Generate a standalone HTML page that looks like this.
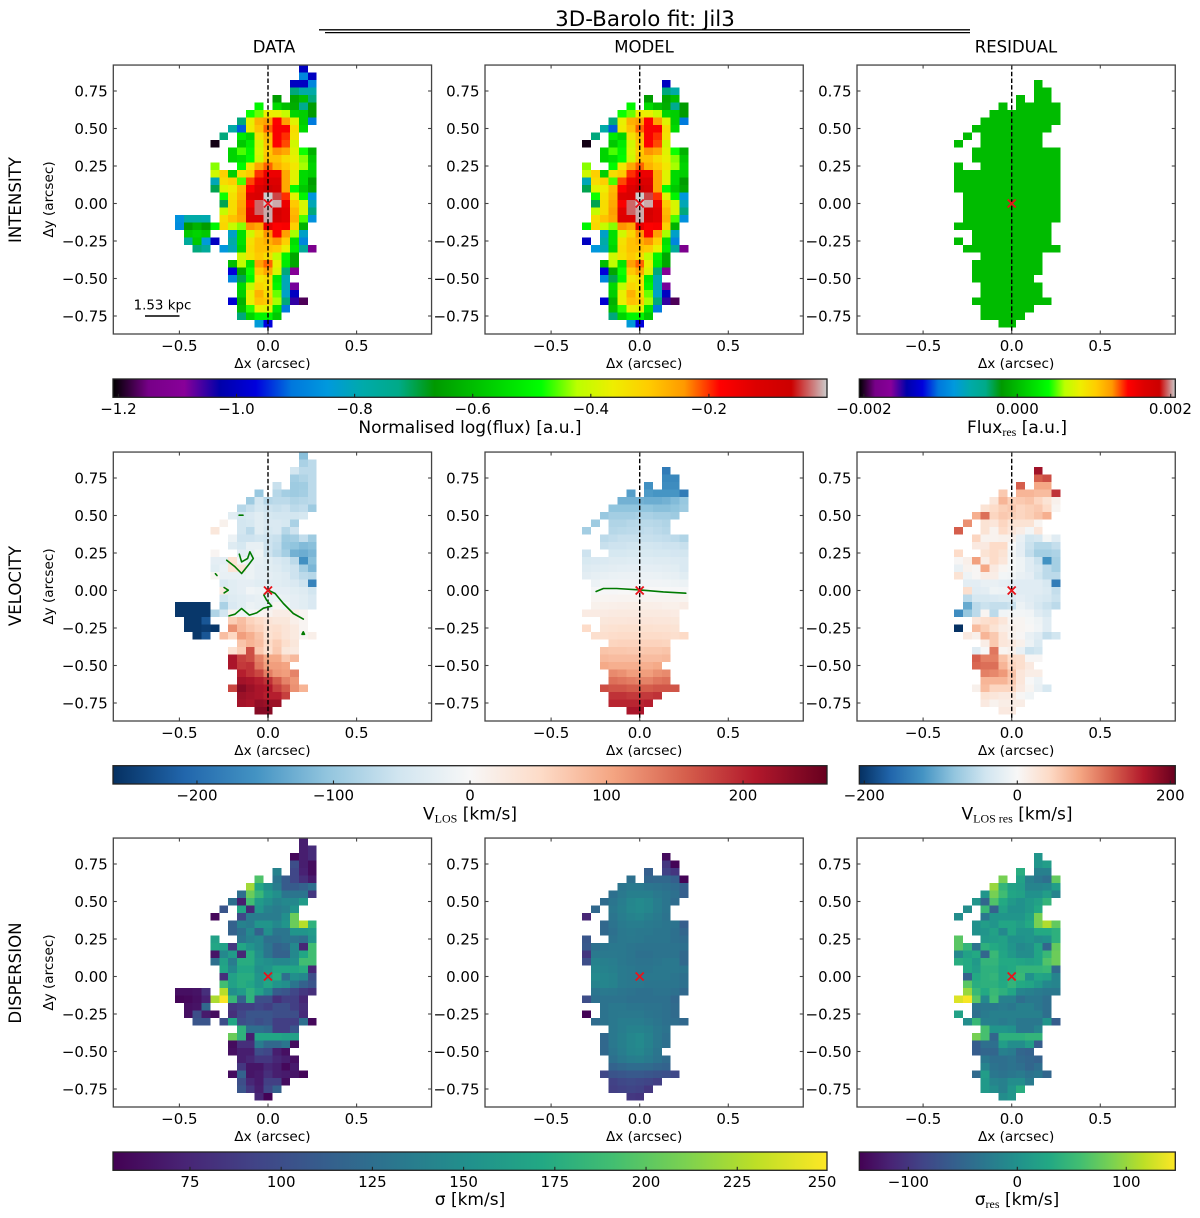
<!DOCTYPE html>
<html lang="en">
<head>
<meta charset="utf-8">
<title>3D-Barolo fit: Jil3</title>
<style>
html,body{margin:0;padding:0;background:#fff;}
svg{display:block;}
text{font-family:"DejaVu Sans","Liberation Sans",sans-serif;fill:#000;}
</style>
</head>
<body>
<svg id="fig" xmlns="http://www.w3.org/2000/svg" width="1200" height="1218" viewBox="0 0 1200 1218">
<rect width="1200" height="1218" fill="#fff"/>
<text x="645" y="26" font-size="21.4" text-anchor="middle">3D-Barolo fit: Jil3</text>
<line x1="319" x2="970" y1="29.8" y2="29.8" stroke="#000" stroke-width="1.3"/>
<line x1="325" x2="970" y1="32.6" y2="32.6" stroke="#000" stroke-width="1.3"/>
<text x="274" y="52.5" font-size="16.5" text-anchor="middle">DATA</text>
<text x="644" y="52.5" font-size="16.5" text-anchor="middle">MODEL</text>
<text x="1016" y="52.5" font-size="16.5" text-anchor="middle">RESIDUAL</text>
<text transform="translate(21,200) rotate(-90)" font-size="16.6" text-anchor="middle">INTENSITY</text>
<text transform="translate(21,586) rotate(-90)" font-size="16.6" text-anchor="middle">VELOCITY</text>
<text transform="translate(21,973) rotate(-90)" font-size="16.6" text-anchor="middle">DISPERSION</text>
<defs id="defs"></defs>
</svg>
<script>
const _ = null;
const p = n => Array(n).fill(null);

/* Rows run from dy = +0.90 down to dy = -0.80; each row starts at dx = -0.50 in 0.05 arcsec pixels */
const intensityData = [
[...p(14),-1],
[...p(14),-.88,-1],
[...p(13),-1,-1,-.88],
[...p(13),-.72,-.78,-.78],
[...p(11),-.66,_,-.64,-.6,-.72],
[...p(9),-.5,_,-.55,-.6,-.63,-.74,-.66],
[...p(8),-.48,-.45,-.36,-.37,-.41,-.56,-.57,-.66],
[...p(7),-.72,-.37,-.27,-.25,-.18,-.25,-.38,-.57,-.9],
[...p(6),-.78,-.92,-.36,-.29,-.22,-.17,-.17,-.33,-.55],
[...p(5),-.72,_,-.52,-.56,-.34,-.28,-.17,-.2,-.34],
[...p(4),-1.2,_,_,-.58,-.52,-.4,-.29,-.18,-.21,-.4],
[...p(6),-.56,-.46,-.5,-.39,-.3,-.24,-.26,-.38,-.48,-.62],
[...p(6),-.56,-.54,-.49,-.4,-.29,-.29,-.33,-.37,-.44,-.58],
[...p(4),-.44,_,_,-.49,-.35,-.26,-.22,-.27,-.3,-.35,-.43,-.56],
[...p(4),-.4,-.31,-.57,-.33,-.3,-.2,-.15,-.15,-.26,-.38,-.55,-.57],
[...p(4),-.8,-.33,-.31,-.46,-.21,-.15,-.12,-.12,-.26,-.38,-.55,-.66],
[...p(4),-.7,-.38,-.36,-.28,-.18,-.12,-.06,-.1,-.26,-.49,-.58,-.64],
[...p(5),-.48,-.34,-.27,-.12,-.11,0,-.04,-.2,-.38,-.5,-.85],
[...p(5),-.7,-.33,-.26,-.17,-.03,0,-.01,-.15,-.3,-.39,-.8],
[...p(5),-.41,-.33,-.25,-.13,-.03,-.01,-.09,-.13,-.28,-.39,-.72],
[-.86,-.78,-.78,-.79,_,-.33,-.29,-.26,-.12,-.12,-.01,-.1,-.13,-.27,-.46,-.86],
[-.87,-.66,-.62,-.66,-.5,-.32,-.41,-.44,-.24,-.26,-.14,-.18,-.17,-.31,-.62],
[...p(1),-.58,-.56,-.58,_,_,-.82,-.54,-.4,-.32,-.24,-.17,-.25,-.43,-.82],
[...p(1),-.76,-.58,-.84,-1,_,-.78,-.54,-.34,-.29,-.27,-.24,-.31,-.54,-.88],
[...p(2),-.72,-.76,_,-.85,-.8,-.56,-.33,-.29,-.29,-.3,-.37,-.52,-.76,-1.13],
[...p(7),-.4,-.34,-.3,-.33,-.42,-.5,-.64],
[...p(6),-.6,-.42,-.53,-.25,-.22,-.37,-.52,-.64],
[...p(6),-.97,-.64,-.48,-.3,-.26,-.39,-.72,-1.1],
[...p(6),-.88,-.7,-.5,-.35,-.33,-.52,-.8],
[...p(7),-.55,-.42,-.32,-.34,-.5,-.8,-1.08],
[...p(7),-.57,-.37,-.27,-.33,-.45,-.82,-1],
[...p(6),-.98,-.62,-.37,-.29,-.3,-.43,-.72,-1.05,-1.17],
[...p(7),-.6,-.47,-.37,-.38,-.53,-.9],
[...p(7),-.72,-.56,-.5,-.5,-.58],
[...p(9),-.84,-.97]
];
const intensityModel = [
[],
[],
[...p(13),-1],
[...p(13),-.72,-.78],
[...p(11),-.66,_,-.64,-.6],
[...p(9),-.5,_,-.55,-.6,-.63,-.74,-.66],
[...p(8),-.48,-.45,-.36,-.37,-.41,-.56,-.57,-.66],
[...p(7),-.72,-.37,-.27,-.25,-.18,-.25,-.38,-.57,-.9],
[...p(6),-.78,-.92,-.36,-.29,-.22,-.17,-.17,-.33,-.55],
[...p(5),-.72,_,-.52,-.56,-.34,-.28,-.17,-.2,-.34],
[...p(4),-1.2,_,_,-.58,-.52,-.4,-.29,-.18,-.21,-.4],
[...p(6),-.56,-.46,-.5,-.39,-.3,-.24,-.26,-.38,-.48,-.62],
[...p(6),-.56,-.54,-.49,-.4,-.29,-.29,-.33,-.37,-.44,-.58],
[...p(4),-.44,_,_,-.49,-.35,-.26,-.22,-.27,-.3,-.35,-.43,-.56],
[...p(4),-.4,-.31,-.57,-.33,-.3,-.2,-.15,-.15,-.26,-.38,-.55,-.57],
[...p(4),-.8,-.33,-.31,-.46,-.21,-.15,-.12,-.12,-.26,-.38,-.55,-.66],
[...p(4),-.7,-.38,-.36,-.28,-.18,-.12,-.06,-.1,-.26,-.49,-.58,-.64],
[...p(5),-.48,-.34,-.27,-.12,-.11,0,-.04,-.2,-.38,-.5,-.85],
[...p(5),-.7,-.33,-.26,-.17,-.03,0,-.01,-.15,-.3,-.39,-.8],
[...p(5),-.41,-.33,-.25,-.13,-.03,-.01,-.09,-.13,-.28,-.39,-.72],
[...p(5),-.33,-.29,-.26,-.12,-.12,-.01,-.1,-.13,-.27,-.46,-.86],
[...p(4),-.5,-.32,-.41,-.44,-.24,-.26,-.14,-.18,-.17,-.31,-.62],
[...p(6),-.82,-.54,-.4,-.32,-.24,-.17,-.25,-.43,-.82],
[...p(4),-1,_,-.78,-.54,-.34,-.29,-.27,-.24,-.31,-.54,-.88],
[...p(5),-.85,-.8,-.56,-.33,-.29,-.29,-.3,-.37,-.52,-.76,-1.13],
[...p(7),-.4,-.34,-.3,-.33,-.42,-.5,-.64],
[...p(6),-.6,-.42,-.53,-.25,-.22,-.37,-.52,-.64],
[...p(6),-.97,-.64,-.48,-.3,-.26,-.39,-.72,-1.1],
[...p(6),-.88,-.7,-.5,-.35,-.33,-.52,-.8],
[...p(7),-.55,-.42,-.32,-.34,-.5,-.8,-1.08],
[...p(7),-.57,-.37,-.27,-.33,-.45,-.82,-1],
[...p(6),-.98,-.62,-.37,-.29,-.3,-.43,-.72,-1.05,-1.17],
[...p(7),-.6,-.47,-.37,-.38,-.53,-.9],
[...p(7),-.72,-.56,-.5,-.5,-.58],
[...p(9),-.84,-.97]
];
const intensityResidual = [
[],
[],
[...p(13),0],
[...p(13),0,0],
[...p(11),0,_,0,0],
[...p(9),0,_,0,0,0,0,0],
[...p(8),0,0,0,0,0,0,0,0],
[...p(7),0,0,0,0,0,0,0,0,0],
[...p(6),0,0,0,0,0,0,0,0,0],
[...p(5),0,_,0,0,0,0,0,0,0],
[...p(4),0,_,_,0,0,0,0,0,0,0],
[...p(6),0,0,0,0,0,0,0,0,0,0],
[...p(6),0,0,0,0,0,0,0,0,0,0],
[...p(4),0,_,_,0,0,0,0,0,0,0,0,0],
[...p(4),0,0,0,0,0,0,0,0,0,0,0,0],
[...p(4),0,0,0,0,0,0,0,0,0,0,0,0],
[...p(4),0,0,0,0,0,0,0,0,0,0,0,0],
[...p(5),0,0,0,0,0,0,0,0,0,0,0],
[...p(5),0,0,0,0,0,0,0,0,0,0,0],
[...p(5),0,0,0,0,0,0,0,0,0,0,0],
[...p(5),0,0,0,0,0,0,0,0,0,0,0],
[...p(4),0,0,0,0,0,0,0,0,0,0,0],
[...p(6),0,0,0,0,0,0,0,0,0],
[...p(4),0,_,0,0,0,0,0,0,0,0,0],
[...p(5),0,0,0,0,0,0,0,0,0,0,0],
[...p(7),0,0,0,0,0,0,0],
[...p(6),0,0,0,0,0,0,0,0],
[...p(6),0,0,0,0,0,0,0,0],
[...p(6),0,0,0,0,0,0,0],
[...p(7),0,0,0,0,0,0,0],
[...p(7),0,0,0,0,0,0,0],
[...p(6),0,0,0,0,0,0,0,0,0],
[...p(7),0,0,0,0,0,0],
[...p(7),0,0,0,0,0],
[...p(9),0,0]
];
const velocityData = [
[...p(14),-110],
[...p(14),-85,-70],
[...p(13),-50,-70,-70],
[...p(13),-90,-80,-70],
[...p(11),-60,_,-95,-92,-70],
[...p(9),-100,_,-75,-90,-95,-90,-70],
[...p(8),-95,-50,-75,-70,-70,-80,-75,-70],
[...p(7),-75,-60,-45,-55,-60,-55,-70,-65,-95],
[...p(6),-30,-45,-40,-30,-45,-50,-50,-50,-45],
[...p(5),12,_,-50,-45,-30,-40,-40,-45,-85],
[...p(4),30,_,_,-50,-70,-30,-45,-40,-75,-55],
[...p(6),-15,-55,-55,-50,-55,-60,-95,-90,-65,-95],
[...p(6),-35,-45,-20,-20,-55,-65,-100,-105,-115,-110],
[...p(4),5,_,_,-30,-25,-12,-55,-70,-90,-125,-130,-120],
[...p(4),-25,-25,40,-10,-20,-20,-30,-40,-50,-70,-160,-110],
[...p(4),-30,-18,35,35,-15,-25,-30,-35,-45,-55,-90,-120],
[...p(4),5,-20,-20,-20,-15,-25,-25,-30,-35,-55,-70,-75],
[...p(5),-40,-30,-25,-25,-30,-30,-30,-35,-40,-55,-175],
[...p(5),25,-30,-25,-10,-15,-10,-25,-25,-30,-35,-50],
[...p(5),-50,-35,-30,-25,-20,-20,-15,-20,-25,-30,-40],
[-255,-255,-255,-255,_,-85,-40,-30,-15,-20,-25,5,-10,-25,-30,-40],
[-255,-255,-255,-255,-80,-50,10,-10,-5,5,10,20,20,15,5],
[...p(1),-255,-255,-225,_,_,65,80,60,50,35,30,30,15,5],
[...p(1),-255,-255,-250,-255,_,120,85,70,60,40,45,35,25,5],
[...p(2),-255,-225,_,80,55,110,95,75,40,50,35,25,5,15],
[...p(7),75,90,80,50,65,45,30],
[...p(6),40,65,170,70,45,70,30,25],
[...p(6),215,180,170,130,100,100,70,85],
[...p(6),215,185,190,140,110,110,105],
[...p(7),205,190,175,135,115,110,130],
[...p(7),220,215,205,190,160,130,115],
[...p(6),175,240,225,215,210,180,160,120,90],
[...p(7),225,220,215,205,205,180],
[...p(7),220,215,230,225,225],
[...p(9),240,240]
];
const velocityModel = [
[],
[],
[...p(13),-185],
[...p(13),-170,-170],
[...p(11),-160,_,-165,-165],
[...p(9),-145,_,-150,-155,-155,-155,-185],
[...p(8),-125,-125,-125,-130,-130,-125,-115,-100],
[...p(7),-105,-105,-105,-105,-105,-110,-110,-105,-95],
[...p(6),-100,-90,-90,-90,-85,-85,-90,-90,-95],
[...p(5),-95,_,-80,-80,-75,-72,-72,-75,-80],
[...p(4),-90,_,_,-75,-72,-70,-68,-65,-70,-75],
[...p(6),-70,-65,-60,-60,-60,-60,-62,-65,-70,-80],
[...p(6),-60,-55,-55,-52,-50,-50,-52,-55,-55,-60],
[...p(4),-55,_,_,-45,-45,-42,-42,-42,-45,-45,-48,-50],
[...p(4),-42,-40,-38,-35,-35,-33,-33,-33,-35,-35,-37,-40],
[...p(4),-35,-32,-30,-28,-26,-25,-25,-25,-26,-28,-30,-40],
[...p(4),-28,-24,-20,-18,-17,-17,-17,-17,-18,-20,-22,-30],
[...p(5),-15,-10,-10,-8,-8,-8,-8,-8,-10,-12,-15],
[...p(5),-3,-2,-2,0,0,0,0,0,0,-2,-3],
[...p(5),5,6,7,8,8,8,8,8,8,7,6],
[...p(5),12,14,15,16,17,17,17,16,14,14,20],
[...p(4),22,22,22,24,25,25,25,25,25,24,22],
[...p(6),30,32,32,33,33,33,32,32,30],
[...p(4),50,_,38,40,42,42,42,42,40,40,38],
[...p(5),45,45,48,50,50,50,50,50,48,45,52],
[...p(7),58,60,60,60,60,60,58],
[...p(6),75,72,72,70,70,72,72,75],
[...p(6),85,82,82,82,82,82,82,85],
[...p(6),100,95,95,95,95,95,100],
[...p(7),125,120,110,110,110,120,125],
[...p(7),145,140,135,130,130,140,145],
[...p(6),170,165,165,160,160,160,165,165,165],
[...p(7),190,190,185,185,185,190],
[...p(7),200,200,200,200,205],
[...p(9),215,215]
];
const velocityResidual = [
[],
[],
[...p(13),175],
[...p(13),125,135],
[...p(11),125,_,80,80],
[...p(9),55,_,70,70,65,65,150],
[...p(8),25,70,50,55,60,45,30,10],
[...p(7),30,40,50,55,45,50,55,40,5],
[...p(6),75,115,45,55,50,45,50,60,75],
[...p(5),95,_,30,25,45,30,30,30,5],
[...p(4),125,_,_,30,8,40,25,15,-5,25],
[...p(6),45,8,8,10,10,-15,-40,-35,-3,-25],
[...p(6),20,20,40,40,0,-20,-45,-60,-60,-50],
[...p(4),40,_,_,30,40,30,-5,-20,-50,-70,-70,-65],
[...p(4),3,12,85,15,40,25,-3,-10,-25,-45,-125,-70],
[...p(4),-15,8,3,80,20,5,-3,-10,-25,-35,-55,-70],
[...p(4),30,-10,3,15,15,-5,-8,-15,-20,-40,-55,-55],
[...p(5),-22,-22,-15,-15,-20,-22,-25,-25,-25,-35,-145],
[...p(5),35,-25,-22,-10,-12,-10,-25,-25,-25,-30,-50],
[...p(5),-55,-35,-35,-32,-28,-28,-20,-25,-30,-35,-45],
[...p(5),-105,-55,-45,-50,-50,-45,-12,-22,-35,-45,-55],
[...p(4),-130,-80,-55,5,-55,-8,-5,-5,-8,-25,-35],
[...p(6),25,35,40,25,5,5,-3,-10,-25],
[...p(4),-205,_,65,50,30,15,10,5,2,-8,-25],
[...p(5),20,10,70,55,25,8,3,-15,-25,-50,-40],
[...p(7),15,55,25,20,10,-12,-30],
[...p(6),-25,0,110,5,10,-15,-45,-40],
[...p(6),125,105,105,60,40,35,3,3],
[...p(6),120,115,115,70,45,35,20],
[...p(7),105,100,90,60,25,15,15],
[...p(7),70,70,70,55,25,0,-12],
[...p(6),10,65,45,45,45,20,5,-15,-35],
[...p(7),30,25,20,20,3,-8],
[...p(7),20,8,15,15,15],
[...p(9),20,20]
];
const dispersionData = [
[...p(14),70],
[...p(14),70,78],
[...p(13),58,70,78],
[...p(13),100,70,60],
[...p(11),140,_,95,72,60],
[...p(9),195,_,130,110,95,80,68],
[...p(8),222,170,150,135,110,110,115,125],
[...p(7),125,205,185,160,150,130,130,130,85],
[...p(6),125,70,190,160,150,140,145,145,160],
[...p(5),105,_,170,75,155,140,135,140,155],
[...p(4),58,_,_,95,135,135,135,135,150,205],
[...p(6),115,140,135,155,155,145,155,205,228,180],
[...p(6),115,125,145,115,150,130,130,155,155,160],
[...p(4),165,_,_,130,140,145,125,125,130,130,125,155],
[...p(4),170,165,85,170,155,145,130,115,120,145,75,190],
[...p(4),65,145,160,75,175,150,130,115,115,145,170,190],
[...p(4),125,165,135,175,175,155,150,145,145,150,190,190],
[...p(5),170,145,170,170,150,155,170,170,170,175,75],
[...p(5),80,165,175,175,155,160,175,125,150,145,100],
[...p(5),190,165,175,170,155,170,155,150,130,115,105],
[62,62,64,80,_,228,150,160,180,165,145,110,105,95,85,80],
[56,58,62,72,225,248,185,115,180,100,100,80,90,90,75],
[...p(1),62,64,120,_,_,85,90,90,95,90,100,100,90,80],
[...p(1),62,100,68,60,_,80,95,105,105,105,100,100,100,78],
[...p(2),105,105,_,100,170,100,105,100,105,90,90,90,125,58],
[...p(7),180,125,125,120,90,90,105],
[...p(6),205,180,70,170,170,170,165,165],
[...p(6),60,80,80,135,120,120,130,60],
[...p(6),62,70,70,100,95,70,62],
[...p(7),70,75,85,85,75,70,62],
[...p(7),85,65,65,75,70,58,68],
[...p(6),60,115,65,68,80,70,68,65,56],
[...p(7),100,75,68,90,90,60],
[...p(7),105,85,70,95,115],
[...p(9),75,55]
];
const dispersionModel = [
[],
[],
[...p(13),60],
[...p(13),85,55],
[...p(11),113,_,92,84],
[...p(9),126,_,118,120,120,113,55],
[...p(8),130,133,133,130,128,126,123,113],
[...p(7),126,133,138,138,138,133,130,126,113],
[...p(6),123,130,136,143,146,143,136,130,123],
[...p(5),120,_,132,138,144,146,143,136,130],
[...p(4),75,_,_,130,136,140,142,138,134,128],
[...p(6),120,128,134,136,136,134,132,130,128,113],
[...p(6),120,126,132,134,132,132,130,130,126,118],
[...p(4),106,_,_,128,132,133,132,130,130,130,126,123],
[...p(4),108,126,130,132,132,130,128,128,128,128,128,126],
[...p(4),84,133,133,133,132,130,126,126,128,128,128,120],
[...p(4),100,140,138,136,132,130,128,128,130,132,132,120],
[...p(5),143,140,138,134,132,130,130,132,132,132,130],
[...p(5),146,142,140,134,132,132,132,132,132,130,126],
[...p(5),140,142,140,134,132,132,130,130,130,130,126],
[...p(5),130,133,132,130,128,126,126,128,128,126,120],
[...p(4),100,126,128,128,128,126,126,126,126,126,120],
[...p(6),128,132,132,130,130,128,128,126,122],
[...p(4),55,_,128,132,133,133,133,130,128,126,122],
[...p(5),123,128,132,136,136,136,133,130,126,124,120],
[...p(7),132,136,140,140,138,132,128],
[...p(6),120,132,138,143,146,140,132,126],
[...p(6),120,132,138,143,146,140,132,126],
[...p(6),120,130,136,142,144,138,130],
[...p(7),126,132,136,138,134,128,122],
[...p(7),116,120,123,123,122,118,116],
[...p(6),96,104,106,108,108,106,104,102,96],
[...p(7),92,96,98,96,94,90],
[...p(7),90,92,94,92,85],
[...p(9),86,84]
];
const dispersionResidual = [
[],
[],
[...p(13),5],
[...p(13),5,15],
[...p(11),35,_,-20,-20],
[...p(9),85,_,20,-20,-30,-40,75],
[...p(8),100,45,20,15,-15,-15,-10,15],
[...p(7),5,85,55,25,20,0,0,15,-15],
[...p(6),5,-50,65,30,10,0,10,20,45],
[...p(5),-5,_,50,-55,20,0,0,10,30],
[...p(4),-5,_,_,-30,5,5,5,5,20,85],
[...p(6),0,15,5,25,25,15,30,85,110,75],
[...p(6),0,5,20,-10,25,5,5,30,30,40],
[...p(4),70,_,_,10,15,20,0,0,5,-5,0,40],
[...p(4),70,45,-35,40,30,20,5,-10,-5,25,-50,75],
[...p(4),-10,20,30,-50,50,25,10,-5,-5,25,50,80],
[...p(4),35,30,10,45,45,30,30,25,20,25,65,80],
[...p(5),30,15,40,40,25,30,45,45,45,50,-45],
[...p(5),-55,30,40,45,25,35,50,0,25,20,-15],
[...p(5),70,35,40,40,30,45,30,25,10,-10,-15],
[...p(5),100,50,30,50,40,25,-15,-20,-25,-30,-30],
[...p(4),130,142,70,-10,55,-20,-20,-40,-30,-30,-40],
[...p(6),-35,-30,-30,-25,-30,-20,-20,-30,-40],
[...p(4),20,_,-40,-25,-20,-20,-20,-20,-20,-20,-40],
[...p(5),-5,50,-20,-20,-25,-20,-30,-30,-30,5,-60],
[...p(7),60,5,5,0,-30,-30,-15],
[...p(6),85,60,-50,40,40,40,45,45],
[...p(6),-60,-40,-40,15,-5,-5,15,-60],
[...p(6),-60,-50,-50,-20,-25,-50,-55],
[...p(7),-30,-40,-40,-35,-45,-50,-55],
[...p(7),-15,-35,-40,-35,-40,-50,-40],
[...p(6),-45,15,-30,-35,-30,-25,-35,-30,-50],
[...p(7),10,-15,-20,-5,-5,-25],
[...p(7),10,-5,-20,5,35],
[...p(9),-5,5]
];

/* Zero-velocity contours (arcsec) */
const contourMainDx = [-.22,-.186,-.149,-.105,-.064,-.026,.021,-.008,-.023,.002,.04,.087,.143,.199];
const contourMainDy = [-.169,-.158,-.12,-.164,-.149,-.118,-.104,-.064,-.031,.002,-.02,-.087,-.153,-.191];
const contourLoopDx = [-.233,-.186,-.149,-.111,-.083,-.102,-.115,-.149,-.162];
const contourLoopDy = [.202,.158,.113,.169,.213,.258,.213,.191,.242];
const contourHookDx = [-.248,-.224,-.248];
const contourHookDy = [.02,.002,-.016];
const contourBlobADx = [-.163,-.141];
const contourBlobADy = [.502,.502];
const contourBlobBDx = [-.297,-.288];
const contourBlobBDy = [.112,.1];
const contourBlobCDx = [.192,.206,.199];
const contourBlobCDy = [-.292,-.292,-.275];
const contourModelDx = [-.246,-.205,-.13,0,.134,.26];
const contourModelDy = [-.007,.013,.013,.004,-.009,-.018];

/* Axis ticks */
const xTickValues = [-.5,0,.5];
const xTickLabels = ['\u22120.5','0.0','0.5'];
const yTickValues = [.75,.5,.25,0,-.25,-.5,-.75];
const yTickLabels = ['0.75','0.50','0.25','0.00','\u22120.25','\u22120.50','\u22120.75'];

/* Colour-bar ticks */
const fluxBarTicks = [-1.2,-1,-.8,-.6,-.4,-.2];
const fluxBarLabels = ['\u22121.2','\u22121.0','\u22120.8','\u22120.6','\u22120.4','\u22120.2'];
const fluxResBarTicks = [-.002,0,.002];
const fluxResBarLabels = ['\u22120.002','0.000','0.002'];
const velBarTicks = [-200,-100,0,100,200];
const velBarLabels = ['\u2212200','\u2212100','0','100','200'];
const velResBarTicks = [-200,0,200];
const velResBarLabels = ['\u2212200','0','200'];
const sigBarTicks = [75,100,125,150,175,200,225,250];
const sigBarLabels = ['75','100','125','150','175','200','225','250'];
const sigResBarTicks = [-100,0,100];
const sigResBarLabels = ['\u2212100','0','100'];

/* Colormaps */
const spectralMap = ['#000000','#770088','#880099','#0000aa','#0000dd','#0077dd','#0099dd','#00aaaa','#00aa88','#009900','#00bb00','#00dd00','#00ff00','#bbff00','#eeee00','#ffcc00','#ff9900','#ff0000','#dd0000','#cc0000','#cccccc'];
const rdbuMap = ['#053061','#2166ac','#4393c3','#92c5de','#d1e5f0','#f7f7f7','#fddbc7','#f4a582','#d6604d','#b2182b','#67001f'];
const viridisMap = ['#440154','#482475','#414487','#355f8d','#2a788e','#21918c','#22a884','#42be71','#7ad151','#bddf26','#fde725'];

const NS = 'http://www.w3.org/2000/svg';
const fig = document.getElementById('fig');
const defs = document.getElementById('defs');
const AXIS = '#444';

function add(parent, tag, attrs, name) {
  const el = document.createElementNS(NS, tag);
  for (const k in attrs) el.setAttribute(k, attrs[k]);
  
  
  parent.appendChild(el);
  return el;
}
function label(parent, x, y, str, size, anchor, name) {
  const t = add(parent, 'text', {x: x, y: y, 'font-size': size, 'text-anchor': anchor}, name);
  t.textContent = str;
  return t;
}
function hexRgb(h) {
  return [parseInt(h.slice(1,3),16), parseInt(h.slice(3,5),16), parseInt(h.slice(5,7),16)];
}
function colorAt(map, t) {
  const tt = Math.max(0, Math.min(1, t)) * (map.length - 1);
  const i = Math.min(map.length - 2, Math.floor(tt));
  const f = tt - i;
  const a = hexRgb(map[i]);
  const b = hexRgb(map[i + 1]);
  return 'rgb(' + [0,1,2].map(k => Math.round(a[k] + (b[k] - a[k]) * f)).join(',') + ')';
}

/* Layout */
const colCentre = [268, 639.7, 1011.7];
const rowCentre = [203.5, 590.5, 976.5];
const pxPerX = 177.2;
const pxPerY = 150;
const xLimLo = -.873, xLimHi = .923, yLimLo = -.87, yLimHi = .923;
const cellStep = .05;
const firstCol = -10;
const firstRow = 18;

function xAxis(col, v) { return colCentre[col] + v * pxPerX; }
function yAxis(row, v) { return rowCentre[row] - v * pxPerY; }

function drawHeatmap(g, col, row, rows, map, vmin, vmax, name) {
  const w = cellStep * pxPerX;
  const h = cellStep * pxPerY;
  rows.forEach((vals, i) => {
    vals.forEach((v, j) => {
      if (v === null || v === undefined) return;
      const dx = (firstCol + j) * cellStep;
      const dy = (firstRow - i) * cellStep;
      add(g, 'rect', {
        x: (xAxis(col, dx) - w / 2).toFixed(2),
        y: (yAxis(row, dy) - h / 2).toFixed(2),
        width: w.toFixed(2),
        height: h.toFixed(2),
        fill: colorAt(map, (v - vmin) / (vmax - vmin)),
        'shape-rendering': 'crispEdges'
      }, name + '-cell');
    });
  });
}

function drawAxes(g, col, row, name) {
  const x0 = xAxis(col, xLimLo), x1 = xAxis(col, xLimHi);
  const y0 = yAxis(row, yLimHi), y1 = yAxis(row, yLimLo);
  xTickValues.forEach((v, i) => {
    const x = xAxis(col, v);
    add(g, 'line', {x1: x, x2: x, y1: y1, y2: y1 - 3.5, stroke: AXIS, 'stroke-width': 1.1}, 'x-tick-bottom');
    add(g, 'line', {x1: x, x2: x, y1: y0, y2: y0 + 3.5, stroke: AXIS, 'stroke-width': 1.1}, 'x-tick-top');
    label(g, x, y1 + 17, xTickLabels[i], 15, 'middle', 'x-tick-label');
  });
  yTickValues.forEach((v, i) => {
    const y = yAxis(row, v);
    add(g, 'line', {x1: x0, x2: x0 + 3.5, y1: y, y2: y, stroke: AXIS, 'stroke-width': 1.1}, 'y-tick-left');
    add(g, 'line', {x1: x1, x2: x1 - 3.5, y1: y, y2: y, stroke: AXIS, 'stroke-width': 1.1}, 'y-tick-right');
    label(g, x0 - 5.5, y + 5.5, yTickLabels[i], 15, 'end', 'y-tick-label');
  });
  add(g, 'rect', {x: x0, y: y0, width: x1 - x0, height: y1 - y0, fill: 'none', stroke: AXIS, 'stroke-width': 1.3}, name + '-frame');
  label(g, (x0 + x1) / 2, y1 + 34, '\u0394x (arcsec)', 13.6, 'middle', 'x-axis-title');
  if (col === 0) {
    const t = add(g, 'text', {transform: 'translate(53,' + (y0 + y1) / 2 + ') rotate(-90)', 'font-size': 13.6, 'text-anchor': 'middle'}, 'y-axis-title');
    t.textContent = '\u0394y (arcsec)';
  }
}

function drawDashed(g, col, row) {
  const x = xAxis(col, 0);
  add(g, 'line', {x1: x, x2: x, y1: yAxis(row, yLimHi), y2: yAxis(row, yLimLo), stroke: '#000', 'stroke-width': 1.4, 'stroke-dasharray': '4.5 2.2'}, 'centre-dashed-line');
}
function drawCross(g, col, row) {
  const x = xAxis(col, 0), y = yAxis(row, 0), s = 4;
  add(g, 'line', {x1: x - s, x2: x + s, y1: y - s, y2: y + s, stroke: '#e8141c', 'stroke-width': 1.9}, 'centre-marker-stroke');
  add(g, 'line', {x1: x - s, x2: x + s, y1: y + s, y2: y - s, stroke: '#e8141c', 'stroke-width': 1.9}, 'centre-marker-stroke');
}
function drawContour(g, col, row, dxs, dys, closed) {
  const pts = dxs.map((v, i) => xAxis(col, v).toFixed(1) + ',' + yAxis(row, dys[i]).toFixed(1)).join(' ');
  add(g, closed ? 'polygon' : 'polyline', {points: pts, fill: closed ? '#007a00' : 'none', stroke: '#007a00', 'stroke-width': 1.6, 'stroke-linejoin': 'round', 'stroke-linecap': 'round'}, 'zero-velocity-contour');
}

const panelSpecs = [
  {name:'intensity-data', col:0, row:0, rows:intensityData, map:spectralMap, vmin:-1.209, vmax:0, dashed:true},
  {name:'intensity-model', col:1, row:0, rows:intensityModel, map:spectralMap, vmin:-1.209, vmax:0, dashed:true},
  {name:'intensity-residual', col:2, row:0, rows:intensityResidual, map:spectralMap, vmin:-.00206, vmax:.00206, dashed:true},
  {name:'velocity-data', col:0, row:1, rows:velocityData, map:rdbuMap, vmin:-261.5, vmax:261.5, dashed:true},
  {name:'velocity-model', col:1, row:1, rows:velocityModel, map:rdbuMap, vmin:-261.5, vmax:261.5, dashed:true},
  {name:'velocity-residual', col:2, row:1, rows:velocityResidual, map:rdbuMap, vmin:-206.5, vmax:206.5, dashed:true},
  {name:'dispersion-data', col:0, row:2, rows:dispersionData, map:viridisMap, vmin:53.9, vmax:249.6, dashed:false},
  {name:'dispersion-model', col:1, row:2, rows:dispersionModel, map:viridisMap, vmin:53.9, vmax:249.6, dashed:false},
  {name:'dispersion-residual', col:2, row:2, rows:dispersionResidual, map:viridisMap, vmin:-145, vmax:145, dashed:false}
];

panelSpecs.forEach(s => {
  const g = add(fig, 'g', {}, s.name + '-panel');
  drawHeatmap(g, s.col, s.row, s.rows, s.map, s.vmin, s.vmax, s.name);
  if (s.dashed) drawDashed(g, s.col, s.row);
  if (s.name === 'velocity-data') {
    drawContour(g, 0, 1, contourMainDx, contourMainDy, false);
    drawContour(g, 0, 1, contourLoopDx, contourLoopDy, false);
    drawContour(g, 0, 1, contourHookDx, contourHookDy, false);
    drawContour(g, 0, 1, contourBlobADx, contourBlobADy, false);
    drawContour(g, 0, 1, contourBlobBDx, contourBlobBDy, false);
    drawContour(g, 0, 1, contourBlobCDx, contourBlobCDy, true);
  }
  if (s.name === 'velocity-model') drawContour(g, 1, 1, contourModelDx, contourModelDy, false);
  drawCross(g, s.col, s.row);
  drawAxes(g, s.col, s.row, s.name);
});

/* Scale bar */
const scaleGroup = add(fig, 'g', {}, 'scale-bar');
add(scaleGroup, 'line', {x1: 145, x2: 179.5, y1: 316, y2: 316, stroke: '#000', 'stroke-width': 1.5}, 'scale-bar-line');
label(scaleGroup, 162.5, 309.5, '1.53 kpc', 13.4, 'middle', 'scale-bar-label');

/* Colour bars */
const barSpecs = [
  {name:'flux-colorbar', x:113, w:714, y:379, map:spectralMap, vmin:-1.2092, vmax:.0, ticks:fluxBarTicks, labels:fluxBarLabels},
  {name:'flux-residual-colorbar', x:859.3, w:316, y:379, map:spectralMap, vmin:-.00206, vmax:.00206, ticks:fluxResBarTicks, labels:fluxResBarLabels},
  {name:'velocity-colorbar', x:113, w:714, y:765.7, map:rdbuMap, vmin:-261.5, vmax:261.5, ticks:velBarTicks, labels:velBarLabels},
  {name:'velocity-residual-colorbar', x:859.3, w:316, y:765.7, map:rdbuMap, vmin:-206.5, vmax:206.5, ticks:velResBarTicks, labels:velResBarLabels},
  {name:'dispersion-colorbar', x:113, w:714, y:1152, map:viridisMap, vmin:53.9, vmax:249.6, ticks:sigBarTicks, labels:sigBarLabels},
  {name:'dispersion-residual-colorbar', x:859.3, w:316, y:1152, map:viridisMap, vmin:-145, vmax:145, ticks:sigResBarTicks, labels:sigResBarLabels}
];
barSpecs.forEach((b, n) => {
  const g = add(fig, 'g', {}, b.name);
  const id = 'grad' + n;
  const grad = document.createElementNS(NS, 'linearGradient');
  grad.setAttribute('id', id);
  grad.setAttribute('x1', '0');
  grad.setAttribute('x2', '1');
  grad.setAttribute('y1', '0');
  grad.setAttribute('y2', '0');
  b.map.forEach((c, i) => {
    const st = document.createElementNS(NS, 'stop');
    st.setAttribute('offset', (i / (b.map.length - 1)).toFixed(4));
    st.setAttribute('stop-color', c);
    grad.appendChild(st);
  });
  defs.appendChild(grad);
  const h = 18.3;
  const right = b.x + b.w;
  add(g, 'rect', {x: b.x, y: b.y, width: b.w, height: h, fill: 'url(#' + id + ')'}, b.name + '-gradient');
  b.ticks.forEach((v, i) => {
    const x = b.x + (v - b.vmin) / (b.vmax - b.vmin) * b.w;
    if (x <= right) {
      add(g, 'line', {x1: x, x2: x, y1: b.y + h, y2: b.y + h - 3.5, stroke: '#222', 'stroke-width': 1.1}, 'colorbar-tick');
    }
    label(g, Math.min(x, right - 4.9), b.y + h + 16.5, b.labels[i], 15, 'middle', 'colorbar-tick-label');
  });
  add(g, 'rect', {x: b.x, y: b.y, width: b.w, height: h, fill: 'none', stroke: '#222', 'stroke-width': 1.3}, b.name + '-frame');
});

/* Colour-bar titles with subscripts */
function barTitle(x, y, main, sub, tail, name) {
  const t = add(fig, 'text', {x: x, y: y, 'font-size': 17, 'text-anchor': 'middle'}, name);
  t.appendChild(document.createTextNode(main));
  if (sub) {
    const s = document.createElementNS(NS, 'tspan');
    s.setAttribute('font-family', '"Liberation Serif", serif');
    s.setAttribute('font-size', '12');
    s.setAttribute('dy', '3');
    s.textContent = sub;
    t.appendChild(s);
    const r = document.createElementNS(NS, 'tspan');
    r.setAttribute('dy', '-3');
    r.textContent = tail;
    t.appendChild(r);
  }
}
barTitle(470, 433, 'Normalised log(flux) [a.u.]', '', '', 'flux-colorbar-title');
barTitle(1017, 433, 'Flux', 'res', ' [a.u.]', 'flux-residual-colorbar-title');
barTitle(470, 819.5, 'V', 'LOS', ' [km/s]', 'velocity-colorbar-title');
barTitle(1017, 819.5, 'V', 'LOS res', ' [km/s]', 'velocity-residual-colorbar-title');
barTitle(470, 1205, '\u03c3 [km/s]', '', '', 'dispersion-colorbar-title');
barTitle(1017, 1205, '\u03c3', 'res', ' [km/s]', 'dispersion-residual-colorbar-title');
</script>
</body>
</html>
